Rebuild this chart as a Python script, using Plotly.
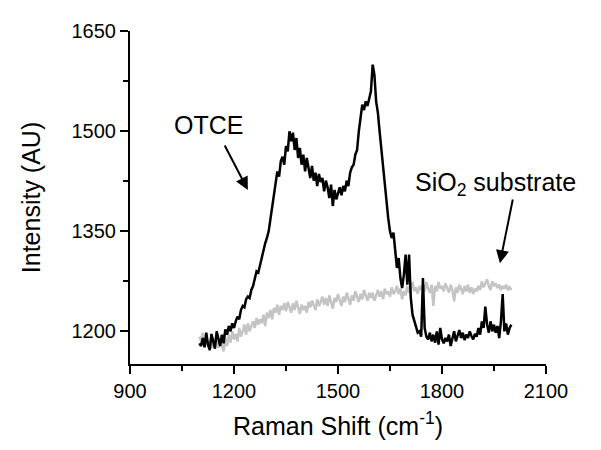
import plotly.graph_objects as go

# Raman shift grid (cm^-1), 5 cm^-1 steps
shift = list(range(1100, 2005, 5))

otce = [1182, 1178, 1190, 1176, 1198, 1180, 1172, 1196, 1185, 1174,
        1200, 1188, 1178, 1195, 1182, 1203, 1195, 1208, 1200, 1212,
        1205, 1215, 1222, 1218, 1232, 1238, 1236, 1248, 1252, 1250,
        1262, 1268, 1278, 1290, 1288, 1300, 1312, 1320, 1332, 1340,
        1350, 1368, 1385, 1400, 1420, 1440, 1432, 1455, 1462, 1450,
        1478, 1470, 1500, 1485, 1498, 1472, 1490, 1460, 1475, 1450,
        1465, 1440, 1460, 1443, 1430, 1448, 1426, 1438, 1418, 1436,
        1424, 1430, 1410, 1426, 1416, 1400, 1420, 1388, 1412, 1398,
        1408, 1416, 1404, 1418, 1410, 1426, 1418, 1438, 1446, 1450,
        1465, 1472, 1500, 1520, 1540, 1532, 1545, 1538, 1550, 1560,
        1600, 1585, 1545, 1528, 1500, 1473, 1445, 1420, 1395, 1369,
        1350, 1340, 1348, 1320, 1295, 1310, 1280, 1265, 1285, 1315,
        1270, 1315, 1250, 1225, 1215, 1205, 1198, 1200, 1192, 1280,
        1205, 1192, 1188, 1198, 1185, 1195, 1183, 1200, 1180, 1205,
        1188, 1182, 1190, 1185, 1195, 1178, 1190, 1200, 1185, 1195,
        1202, 1190, 1198, 1187, 1195, 1190, 1200, 1193, 1188, 1196,
        1192, 1205, 1195, 1215, 1205, 1237, 1210, 1198, 1215, 1200,
        1210, 1198, 1208, 1190, 1215, 1256, 1200, 1212, 1195, 1205,
        1210]

sio2 = [1192, 1185, 1198, 1180, 1190, 1178, 1186, 1175, 1190, 1180,
        1185, 1175, 1188, 1178, 1170, 1190, 1178, 1195, 1183, 1200,
        1188, 1196, 1185, 1205, 1192, 1200, 1210, 1195, 1212, 1200,
        1208, 1215, 1205, 1220, 1210, 1218, 1212, 1225, 1208, 1228,
        1220, 1232, 1218, 1235, 1228, 1240, 1225, 1238, 1232, 1242,
        1230, 1244, 1236, 1228, 1242, 1232, 1246, 1236, 1226, 1240,
        1232, 1238, 1228, 1244, 1236, 1246, 1240, 1232, 1248, 1238,
        1244, 1252, 1240, 1250, 1238, 1254, 1244, 1234, 1250, 1244,
        1256, 1246, 1238, 1252, 1244, 1258, 1248, 1240, 1254, 1246,
        1260, 1250, 1244, 1256, 1248, 1262, 1252, 1246, 1258, 1250,
        1258, 1246, 1254, 1262, 1252, 1260, 1248, 1264, 1256, 1260,
        1252, 1266, 1256, 1260, 1268, 1256, 1264, 1248, 1260, 1254,
        1268, 1258, 1264, 1274, 1260, 1266, 1256, 1268, 1262, 1270,
        1260, 1274, 1264, 1258, 1270, 1238, 1268, 1260, 1274, 1264,
        1268, 1260, 1272, 1264, 1258, 1270, 1262, 1245, 1266, 1258,
        1270, 1264, 1256, 1268, 1260, 1270, 1258, 1266, 1256, 1264,
        1260, 1268, 1262, 1275, 1266, 1272, 1278, 1268, 1262, 1275,
        1268, 1272, 1265, 1270, 1262, 1268, 1264, 1270, 1262, 1266,
        1262]

x_ticks = [900, 1200, 1500, 1800, 2100]
y_ticks = [1200, 1350, 1500, 1650]

font_family = "Liberation Sans, Arial, sans-serif"
big = 25

fig = go.Figure()
fig.add_trace(go.Scatter(x=shift, y=sio2, mode="lines",
                         line=dict(color="#c4c4c4", width=2.5),
                         name="SiO2 substrate", showlegend=False))
fig.add_trace(go.Scatter(x=shift, y=otce, mode="lines",
                         line=dict(color="#000000", width=2.5),
                         name="OTCE", showlegend=False))

fig.add_annotation(x=1021, y=1509, xref="x", yref="y", text="OTCE",
                   showarrow=False, xanchor="left", yanchor="middle",
                   font=dict(size=big, color="black", family=font_family))
fig.add_annotation(x=1240, y=1412, ax=1171, ay=1481, xref="x", yref="y",
                   axref="x", ayref="y", text="", showarrow=True,
                   arrowhead=2, arrowsize=1.3, arrowwidth=2, arrowcolor="black")
fig.add_annotation(x=1716, y=1421, xref="x", yref="y",
                   text="SiO<sub>2</sub> substrate",
                   showarrow=False, xanchor="left", yanchor="middle",
                   font=dict(size=big, color="black", family=font_family))
fig.add_annotation(x=1967, y=1302, ax=2005, ay=1400, xref="x", yref="y",
                   axref="x", ayref="y", text="", showarrow=True,
                   arrowhead=2, arrowsize=1.3, arrowwidth=2, arrowcolor="black")

axis_common = dict(showline=True, linecolor="black", linewidth=2,
                   ticks="outside", ticklen=8, tickwidth=2, tickcolor="black",
                   showgrid=False, zeroline=False,
                   tickfont=dict(size=20, color="black", family=font_family),
                   minor=dict(ticks="outside", ticklen=5, tickwidth=2,
                              tickcolor="black", showgrid=False))

fig.update_xaxes(range=[900, 2100], tickvals=x_ticks,
                 ticktext=[str(v) for v in x_ticks],
                 title=dict(text="Raman Shift (cm<sup>-1</sup>)", standoff=16,
                            font=dict(size=big, color="black", family=font_family)),
                 **axis_common)
fig.update_xaxes(minor=dict(tickvals=[1050, 1350, 1650, 1950]))
fig.update_yaxes(range=[1151, 1650.5], tickvals=y_ticks,
                 ticktext=[str(v) for v in y_ticks],
                 title=dict(text="Intensity (AU)", standoff=24,
                            font=dict(size=big, color="black", family=font_family)),
                 **axis_common)
fig.update_yaxes(minor=dict(tickvals=[1275, 1425, 1575]))

fig.update_layout(width=593, height=442,
                  margin=dict(l=122, r=55, t=21, b=86),
                  plot_bgcolor="white", paper_bgcolor="white",
                  font=dict(family=font_family, color="black"))

fig.write_html("out.html")
